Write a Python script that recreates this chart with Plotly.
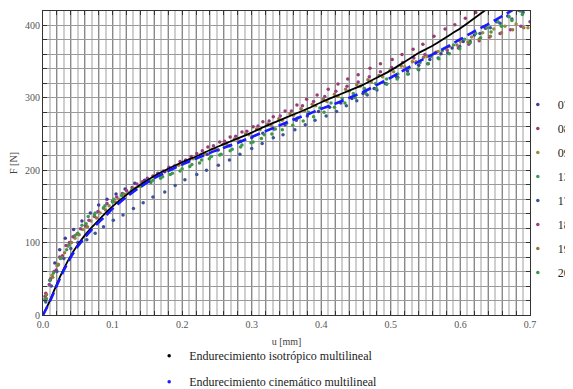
import plotly.graph_objects as go

# ---- model curves ----
u_iso = [0, 0.01, 0.02, 0.03, 0.04, 0.05, 0.06, 0.07, 0.08, 0.09, 0.10, 0.12, 0.14, 0.16, 0.18, 0.20,
         0.22, 0.24, 0.26, 0.28, 0.30, 0.32, 0.34, 0.36, 0.38, 0.40, 0.42, 0.44, 0.46, 0.48, 0.50,
         0.52, 0.54, 0.56, 0.58, 0.60, 0.62, 0.64, 0.67, 0.70]
F_iso = [0, 20, 43, 64, 82, 97, 110, 121, 131, 141, 150, 166, 180, 192, 202, 211,
         219, 228, 236, 244, 252, 261, 269, 277, 285, 294, 302, 310, 318, 328, 338,
         350, 362, 372, 384, 396, 410, 424, 445, 465]

u_kin = [0, 0.01, 0.02, 0.03, 0.04, 0.05, 0.06, 0.07, 0.08, 0.09, 0.10, 0.12, 0.14, 0.16, 0.18, 0.20,
         0.22, 0.24, 0.26, 0.28, 0.30, 0.32, 0.34, 0.36, 0.38, 0.40, 0.42, 0.44, 0.46, 0.48, 0.50,
         0.52, 0.54, 0.56, 0.58, 0.60, 0.62, 0.64, 0.66, 0.68, 0.70]
F_kin = [0, 19, 41, 62, 80, 95, 107, 118, 128, 137, 147, 163, 177, 189, 199, 208,
         216, 224, 231, 238, 246, 254, 262, 270, 277, 285, 292, 300, 308, 318, 328,
         339, 350, 360, 370, 381, 392, 402, 413, 424, 435]

# ---- experimental series ----
u07 = [0.003, 0.010, 0.017, 0.024, 0.032, 0.044, 0.056, 0.068, 0.080, 0.092, 0.105, 0.118, 0.132, 0.146, 0.160,
       0.175, 0.190, 0.205, 0.220, 0.236, 0.252, 0.268, 0.284, 0.300, 0.316, 0.332, 0.348, 0.364, 0.380, 0.396,
       0.412, 0.428, 0.444, 0.460, 0.476, 0.492, 0.508, 0.524, 0.540, 0.556, 0.572, 0.588, 0.604, 0.620, 0.636,
       0.652, 0.668, 0.684, 0.700]
F07 = [22, 48, 72, 90, 106, 118, 130, 141, 152, 160, 167, 174, 182, 186, 191, 198, 205, 211, 217, 222, 228, 234,
       240, 245, 251, 257, 263, 269, 275, 281, 287, 293, 299, 306, 313, 320, 329, 337, 345, 353, 361, 369, 378,
       387, 396, 405, 413, 421, 430]

u08 = [0.004, 0.011, 0.019, 0.028, 0.038, 0.049, 0.061, 0.074, 0.087, 0.100, 0.114, 0.128, 0.143, 0.158, 0.173,
       0.189, 0.205, 0.221, 0.237, 0.254, 0.269, 0.286, 0.302, 0.316, 0.331, 0.348, 0.365, 0.379, 0.394, 0.410,
       0.424, 0.438, 0.453, 0.470, 0.485, 0.502, 0.516, 0.532, 0.546, 0.562, 0.578, 0.592, 0.607, 0.622, 0.637]
F08 = [30, 50, 62, 82, 100, 112, 123, 136, 148, 157, 168, 176, 184, 192, 199, 206, 214, 223, 232, 239, 246, 253,
       260, 267, 274, 282, 290, 298, 304, 312, 319, 326, 332, 341, 347, 353, 360, 367, 374, 385, 395, 401, 410,
       418, 426]

u09 = [0.004, 0.013, 0.020, 0.027, 0.036, 0.046, 0.057, 0.069, 0.082, 0.095, 0.109, 0.123, 0.138, 0.153, 0.168,
       0.184, 0.200, 0.216, 0.232, 0.248, 0.264, 0.280, 0.296, 0.312, 0.328, 0.344, 0.360, 0.376, 0.392, 0.408,
       0.424, 0.440, 0.456, 0.472, 0.488, 0.504, 0.520, 0.536, 0.552, 0.568, 0.584, 0.600, 0.616, 0.632, 0.648,
       0.664, 0.680, 0.697]
F09 = [24, 55, 68, 79, 95, 106, 118, 130, 141, 151, 160, 169, 178, 186, 193, 201, 208, 216, 223, 229, 236, 242,
       249, 256, 262, 269, 276, 282, 289, 295, 302, 309, 316, 322, 329, 336, 343, 350, 357, 364, 371, 378, 384,
       390, 395, 399, 402, 397]

u13 = [0.003, 0.010, 0.022, 0.034, 0.046, 0.056, 0.065, 0.075, 0.089, 0.102, 0.116, 0.130, 0.144, 0.158, 0.172,
       0.186, 0.200, 0.214, 0.228, 0.242, 0.256, 0.272, 0.286, 0.302, 0.318, 0.334, 0.350, 0.366, 0.382, 0.398,
       0.414, 0.430, 0.446, 0.462, 0.478, 0.494, 0.510, 0.526, 0.542, 0.558, 0.574, 0.590, 0.606, 0.622, 0.638,
       0.654, 0.670, 0.686, 0.700]
F13 = [20, 48, 69, 90, 110, 124, 136, 141, 151, 160, 167, 174, 180, 186, 191, 196, 202, 208, 214, 219, 222, 229,
       235, 239, 249, 257, 265, 272, 280, 286, 293, 299, 306, 313, 320, 326, 333, 341, 349, 357, 365, 373, 381,
       389, 397, 405, 412, 420, 428]

u17 = [0.004, 0.012, 0.020, 0.030, 0.040, 0.050, 0.063, 0.075, 0.087, 0.101, 0.115, 0.130, 0.144, 0.158, 0.175,
       0.190, 0.204, 0.221, 0.235, 0.252, 0.268, 0.283, 0.300, 0.315, 0.331, 0.345, 0.362, 0.377, 0.391, 0.407,
       0.422, 0.436, 0.451, 0.466, 0.480, 0.494, 0.510, 0.525, 0.540, 0.553, 0.568, 0.582, 0.599, 0.614, 0.628,
       0.643, 0.657, 0.674, 0.690]
F17 = [18, 40, 60, 78, 92, 100, 104, 113, 122, 131, 138, 147, 155, 163, 170, 179, 187, 194, 200, 207, 214, 222,
       230, 237, 245, 249, 256, 263, 269, 275, 281, 289, 296, 304, 311, 319, 328, 333, 339, 347, 355, 362, 371,
       378, 389, 397, 403, 409, 418]

u18 = [0.003, 0.009, 0.016, 0.024, 0.033, 0.043, 0.054, 0.066, 0.079, 0.092, 0.106, 0.120, 0.135, 0.150, 0.165,
       0.181, 0.197, 0.213, 0.229, 0.245, 0.261, 0.277, 0.293, 0.309, 0.325, 0.341, 0.357, 0.373, 0.389, 0.405,
       0.421, 0.437, 0.453, 0.469, 0.485, 0.501, 0.517, 0.533, 0.549, 0.565, 0.581, 0.597, 0.612, 0.627, 0.642,
       0.657, 0.672, 0.687, 0.700]
F18 = [26, 42, 60, 80, 96, 108, 119, 131, 143, 154, 163, 172, 181, 189, 196, 204, 212, 219, 227, 234, 240, 247,
       254, 261, 268, 275, 282, 289, 295, 302, 309, 316, 322, 329, 336, 342, 349, 355, 360, 363, 366, 369, 374,
       379, 384, 389, 394, 399, 405]

u19 = [0.005, 0.014, 0.022, 0.031, 0.041, 0.052, 0.064, 0.077, 0.090, 0.104, 0.118, 0.133, 0.148, 0.163, 0.179,
       0.195, 0.211, 0.227, 0.243, 0.259, 0.275, 0.291, 0.307, 0.323, 0.339, 0.355, 0.371, 0.387, 0.403, 0.419,
       0.435, 0.451, 0.467, 0.483, 0.499, 0.515, 0.531, 0.547, 0.563, 0.579, 0.595, 0.611, 0.627, 0.643, 0.659,
       0.675, 0.691]
F19 = [28, 52, 70, 86, 100, 111, 122, 134, 145, 156, 166, 175, 184, 192, 200, 207, 215, 222, 229, 236, 243, 250,
       257, 264, 271, 278, 285, 291, 298, 305, 312, 318, 325, 331, 338, 344, 350, 356, 362, 368, 373, 377, 381,
       385, 390, 394, 397]

u20 = [0.005, 0.015, 0.025, 0.037, 0.050, 0.062, 0.074, 0.087, 0.100, 0.113, 0.127, 0.141, 0.155, 0.169, 0.183,
       0.197, 0.211, 0.225, 0.239, 0.254, 0.269, 0.284, 0.299, 0.314, 0.329, 0.344, 0.359, 0.374, 0.389, 0.404,
       0.419, 0.434, 0.449, 0.464, 0.479, 0.494, 0.509, 0.524, 0.539, 0.554, 0.569, 0.584, 0.599, 0.614, 0.629,
       0.644, 0.659, 0.674, 0.689]
F20 = [22, 58, 78, 97, 113, 126, 138, 148, 156, 165, 172, 178, 183, 189, 194, 199, 205, 210, 216, 221, 227, 232,
       238, 244, 250, 256, 262, 268, 274, 280, 287, 293, 300, 306, 313, 319, 326, 333, 340, 347, 354, 361, 368,
       376, 383, 391, 399, 407, 415]

series_names = ["07", "08", "09", "13", "17", "18", "19", "20"]
series_u = [u07, u08, u09, u13, u17, u18, u19, u20]
series_F = [F07, F08, F09, F13, F17, F18, F19, F20]
series_colors = ["#3f3d99", "#993d71", "#998d3d", "#3d9959", "#3d5599", "#993d89", "#99753d", "#3d9941"]

curve_names = ["Endurecimiento isotrópico multilineal", "Endurecimiento cinemático multilineal"]

x_tickvals = [i * 0.02 for i in range(36)]
x_ticktext = [("%.1f" % v) if abs(v * 10 - round(v * 10)) < 1e-6 else "" for v in x_tickvals]
y_tickvals = list(range(0, 421, 20))
y_ticktext = [str(v) if v % 100 == 0 else "" for v in y_tickvals]

SERIF = "Liberation Serif"
fig = go.Figure()

for name, uu, ff, col in zip(series_names, series_u, series_F, series_colors):
    fig.add_trace(go.Scatter(x=uu, y=ff, mode="markers", name=name, legend="legend",
                             legendgroup=name,
                             marker=dict(color=col, size=3.5), showlegend=True))

fig.add_trace(go.Scatter(x=u_iso, y=F_iso, mode="lines",
                         line=dict(color="black", width=1.8, shape="spline", smoothing=0.6),
                         showlegend=False))
fig.add_trace(go.Scatter(x=u_kin, y=F_kin, mode="lines",
                         line=dict(color="#1a1aff", width=2.6, dash="10px,5px", shape="spline", smoothing=0.6),
                         showlegend=False))
# legend entries for the model curves (point-style legend like the original)
for nm, col in zip(curve_names, ["black", "#1a1aff"]):
    fig.add_trace(go.Scatter(x=[None], y=[None], mode="markers", name=nm, legend="legend2",
                             legendgroup=nm, marker=dict(color=col, size=3.5)))

fig.update_layout(
    width=565, height=389,
    margin=dict(l=35, r=43, t=3, b=82, autoexpand=False),
    paper_bgcolor="white", plot_bgcolor="white",
    font=dict(family=SERIF, size=12, color="#333"),
    legend=dict(x=0.975, xanchor="left", y=0.740, yanchor="top", bgcolor="rgba(0,0,0,0)",
                font=dict(family=SERIF, size=12, color="#222"), tracegroupgap=5,
                itemwidth=30),
    legend2=dict(x=0.218, xanchor="left", y=-0.086, yanchor="top", bgcolor="rgba(0,0,0,0)",
                 font=dict(family=SERIF, size=12, color="#222"), tracegroupgap=7),
    xaxis=dict(range=[0, 0.7], tickvals=x_tickvals, ticktext=x_ticktext,
               showgrid=True, gridcolor="#8a8a8a", gridwidth=1,
               minor=dict(dtick=0.01, tick0=0, showgrid=True, gridcolor="#cfcfcf", gridwidth=2),
               showline=True, linecolor="#333", linewidth=1, mirror="ticks",
               ticks="inside", ticklen=4, tickcolor="#333",
               tickfont=dict(family=SERIF, size=10, color="#555"),
               title=dict(text="u [mm]", font=dict(family=SERIF, size=10, color="#444"), standoff=8),
               zeroline=False),
    yaxis=dict(range=[0, 420], tickvals=y_tickvals, ticktext=y_ticktext,
               showgrid=True, gridcolor="#9a9a9a", gridwidth=1,
               showline=True, linecolor="#333", linewidth=1, mirror="ticks",
               ticks="inside", ticklen=4, tickcolor="#333",
               tickfont=dict(family=SERIF, size=10, color="#555"),
               title=dict(text="F [N]", font=dict(family=SERIF, size=10, color="#444"), standoff=8),
               zeroline=False),
)

fig.write_html("out.html")
